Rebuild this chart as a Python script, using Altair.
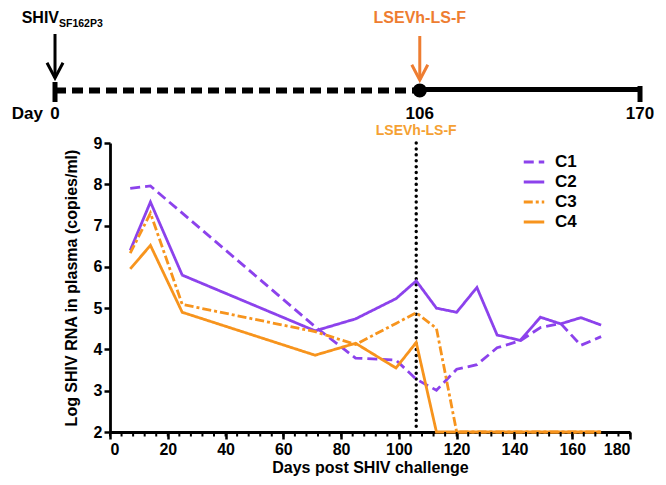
import altair as alt
import pandas as pd

# ---------------- data ----------------
series = ["C1", "C2", "C3", "C4"]
days_c1 = [7, 14, 71, 85, 99, 106, 113, 120, 127, 134, 142, 149, 156, 163, 170]
log_c1 = [7.90, 7.96, 4.55, 3.79, 3.74, 3.28, 3.01, 3.52, 3.63, 4.04, 4.21, 4.53, 4.63, 4.10, 4.31]
days_c2 = [7, 14, 25, 71, 85, 99, 106, 113, 120, 127, 134, 142, 149, 156, 163, 170]
log_c2 = [6.40, 7.57, 5.80, 4.45, 4.74, 5.23, 5.66, 5.00, 4.90, 5.50, 4.35, 4.22, 4.78, 4.62, 4.77, 4.59]
days_c3 = [7, 14, 25, 71, 85, 99, 106, 113, 120, 127, 134, 142, 149, 156, 163, 170]
log_c3 = [6.33, 7.30, 5.09, 4.43, 4.12, 4.63, 4.89, 4.51, 2.00, 2.00, 2.00, 2.00, 2.00, 2.00, 2.00, 2.00]
days_c4 = [7, 14, 25, 71, 85, 99, 106, 113, 120, 127, 134, 142, 149, 156, 163, 170]
log_c4 = [5.95, 6.52, 4.90, 3.86, 4.15, 3.55, 4.17, 2.00, 2.00, 2.00, 2.00, 2.00, 2.00, 2.00, 2.00, 2.00]

x_ticks = [0, 20, 40, 60, 80, 100, 120, 140, 160, 180]
x_minor = [0, 4, 8, 12, 16, 20, 24, 28, 32, 36, 40, 44, 48, 52, 56, 60, 64, 68, 72, 76,
           80, 84, 88, 92, 96, 100, 104, 108, 112, 116, 120, 124, 128, 132, 136, 140,
           144, 148, 152, 156, 160, 164, 168, 172, 176, 180]
y_ticks = [2, 3, 4, 5, 6, 7, 8, 9]

treat_day = [106]
treat_name = ["LSEVh-LS-F"]
tl_days = [0, 106, 170]
tl_labels = ["0", "106", "170"]
virus_main = ["SHIV"]
virus_sub = ["SF162P3"]

PURPLE = "#8C42EC"
ORANGE = "#F7941D"
TL_ORANGE = "#EE7D31"
LBL_ORANGE = "#F5A133"
FONT = "Liberation Sans"

rows = []
for name, dd, vv in zip(series, [days_c1, days_c2, days_c3, days_c4],
                        [log_c1, log_c2, log_c3, log_c4]):
    for d, v in zip(dd, vv):
        rows.append({"series": name, "day": d, "logv": v})
df = pd.DataFrame(rows)

xscale = alt.Scale(domain=[0, 180], nice=False, zero=False)
yscale = alt.Scale(domain=[2, 9], nice=False, zero=False)

lines = alt.Chart(df).mark_line(strokeWidth=2.8, strokeCap="butt", strokeJoin="miter").encode(
    x=alt.X("day:Q", scale=xscale,
            axis=alt.Axis(values=x_ticks, title="Days post SHIV challenge", tickSize=7,
                          tickWidth=2.5, domainWidth=2.8, labelPadding=2, titlePadding=2,
                          labelFontSize=16, titleFontSize=16)),
    y=alt.Y("logv:Q", scale=yscale,
            axis=alt.Axis(values=y_ticks, title="Log SHIV RNA in plasma (copies/ml)",
                          tickSize=6, tickWidth=2.5, domainWidth=2.8, labelPadding=2,
                          titlePadding=14, labelFontSize=16, titleFontSize=16)),
    color=alt.Color("series:N", scale=alt.Scale(domain=series,
                    range=[PURPLE, PURPLE, ORANGE, ORANGE]), title=None),
    strokeDash=alt.StrokeDash("series:N", scale=alt.Scale(domain=series,
                    range=[[10, 5], [1, 0], [9, 3, 3, 3], [1, 0]]), title=None),
    order=alt.Order("day:Q"),
)

treat_df = pd.DataFrame({"day": treat_day, "name": treat_name, "top": [9], "bottom": [2]})
vline = alt.Chart(treat_df).mark_rule(color="black", strokeWidth=3.4, strokeDash=[0.1, 5.8],
                                      strokeCap="round").encode(
    x=alt.X("day:Q", scale=xscale),
    y=alt.Y("top:Q", scale=yscale),
    y2="bottom:Q",
)
vlabel = alt.Chart(treat_df).mark_text(color=LBL_ORANGE, fontSize=14, fontWeight="bold",
                                       font=FONT, baseline="middle").encode(
    x=alt.X("day:Q", scale=xscale),
    y=alt.value(-12.5),
    text="name:N",
)
minor_df = pd.DataFrame({"day": x_minor})
minor = alt.Chart(minor_df).mark_rule(color="black", strokeWidth=2).encode(
    x=alt.X("day:Q", scale=xscale),
    y=alt.value(289),
    y2=alt.value(293.5),
)

main = alt.layer(vline, lines, vlabel, minor)

# ---------------- timeline ----------------
tl_scale = alt.Scale(domain=[15.98, 167.09], nice=False, zero=False)
TX = alt.X("day:Q", scale=tl_scale, axis=None)

seg_df = pd.DataFrame({"day": [tl_days[0], tl_days[1]], "end": [tl_days[1], tl_days[2]],
                       "kind": ["pre", "post"]})
dashed = alt.Chart(seg_df.iloc[[0]]).mark_rule(color="black", strokeWidth=6,
                                              strokeDash=[11, 6], strokeCap="butt").encode(
    x=TX, x2="end:Q", y=alt.value(-52.5))
solid = alt.Chart(seg_df.iloc[[1]]).mark_rule(color="black", strokeWidth=5).encode(
    x=TX, x2="end:Q", y=alt.value(-53.5))
end_df = pd.DataFrame({"day": [tl_days[0], tl_days[2]], "y1": [-61, -57], "y2": [-41, -41]})
ends = alt.Chart(end_df).mark_rule(color="black", strokeWidth=5).encode(
    x=TX, y=alt.Y("y1:Q", scale=None), y2="y2:Q")
dot = alt.Chart(pd.DataFrame({"day": treat_day})).mark_circle(
    color="black", opacity=1, size=200).encode(x=TX, y=alt.value(-52.5))

arrow_df = pd.DataFrame({"day": [tl_days[0], treat_day[0]], "c": ["black", TL_ORANGE],
                         "top": [-109, -107], "tip": [-65, -63]})
shafts = alt.Chart(arrow_df).mark_rule(strokeWidth=3).encode(
    x=TX, y=alt.Y("top:Q", scale=None), y2="tip:Q", color=alt.Color("c:N", scale=None))
heads = alt.Chart(arrow_df).mark_point(shape="M-1,-1.9L0,0L1,-1.9", size=256, filled=False,
                                       strokeWidth=3, opacity=1, strokeJoin="miter").encode(
    x=TX, y=alt.Y("tip:Q", scale=None), color=alt.Color("c:N", scale=None))

lab_df = pd.DataFrame({"day": tl_days, "label": tl_labels})
day_labels = alt.Chart(lab_df).mark_text(fontSize=17, fontWeight="bold", font=FONT,
                                         color="black", baseline="middle").encode(
    x=TX, y=alt.value(-29.5), text="label:N")
day_word = alt.Chart(pd.DataFrame({"day": [tl_days[0]], "w": ["Day"]})).mark_text(
    fontSize=17, fontWeight="bold", font=FONT, color="black", baseline="middle",
    align="right", dx=-12).encode(x=TX, y=alt.value(-29.5), text="w:N")

virus_df = pd.DataFrame({"day": [tl_days[0]], "v": virus_main, "s": virus_sub})
virus = alt.Chart(virus_df).mark_text(fontSize=16, fontWeight="bold", font=FONT,
                                      color="black", baseline="middle", align="right",
                                      dx=4).encode(x=TX, y=alt.value(-125), text="v:N")
virus_s = alt.Chart(virus_df).mark_text(fontSize=10.5, fontWeight="bold", font=FONT,
                                        color="black", baseline="middle", align="left",
                                        dx=4).encode(x=TX, y=alt.value(-119), text="s:N")
tl_treat = alt.Chart(treat_df).mark_text(fontSize=16, fontWeight="bold", font=FONT,
                                         color=TL_ORANGE, baseline="middle").encode(
    x=TX, y=alt.value(-125), text="name:N")

timeline = alt.layer(dashed, solid, ends, dot, shafts, heads, day_labels, day_word,
                     virus, virus_s, tl_treat)

chart = alt.layer(main, timeline).resolve_scale(x="independent").properties(
    width=520, height=289,
    autosize=alt.AutoSizeParams(type="none"),
    padding={"left": 102, "top": 135, "right": 28, "bottom": 45},
).configure(font=FONT).configure_view(stroke=None).configure_axis(
    grid=False, domainColor="black", tickColor="black", labelColor="black",
    titleColor="black", labelFont=FONT, titleFont=FONT, labelFontWeight="bold",
    titleFontWeight="bold",
).configure_legend(
    orient="none", legendX=412, legendY=7, labelFontSize=17, labelFontWeight="bold",
    labelFont=FONT, labelColor="black", symbolType="stroke", symbolStrokeWidth=3,
    symbolSize=420, labelOffset=9, rowPadding=0,
)

chart.save("out.html", embed_options={"renderer": "svg", "actions": False})
